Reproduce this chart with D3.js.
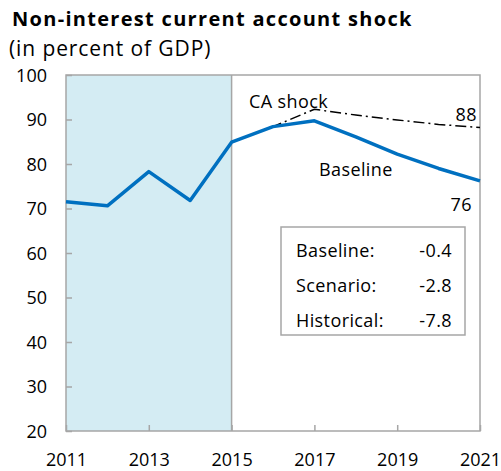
<!DOCTYPE html>
<html>
<head>
<meta charset="utf-8">
<script src="https://cdn.jsdelivr.net/npm/d3@7"></script>
<style>
  body { margin: 0; background: #fff; }
  svg text { font-family: "Open Sans", "Noto Sans", sans-serif; fill: #000; }
</style>
</head>
<body>
<svg id="chart" width="501" height="471"></svg>
<script>
// values
var years = [2011, 2012, 2013, 2014, 2015, 2016, 2017, 2018, 2019, 2020, 2021]
var baseline = [71.5, 70.6, 78.3, 71.8, 84.9, 88.4, 89.7, 86.1, 82.2, 79.0, 76.2]
var shockYears = [2015, 2016, 2017, 2018, 2019, 2020, 2021]
var shock = [84.9, 88.4, 92.3, 91.0, 89.9, 88.9, 88.2]
var yTicks = [20, 30, 40, 50, 60, 70, 80, 90, 100]
var xTicks = [2011, 2013, 2015, 2017, 2019, 2021]
var histEnd = 2015
var boxLabels = ["Baseline:", "Scenario:", "Historical:"]
var boxValues = ["-0.4", "-2.8", "-7.8"]

var svg = d3.select("#chart")
// plot box (don't use "top" as a global, it's window.top)
var pL = 66, pR = 480, pT = 75, pB = 431

var x = d3.scaleLinear().domain([2011, 2021]).range([pL, pR])
var y = d3.scaleLinear().domain([20, 100]).range([pB, pT])

// title
svg.append("text").attr("x", 12).attr("y", 26)
  .style("font-size", "20px").style("font-weight", "bold")
  .style("letter-spacing", "1.3px")
  .text("Non-interest current account shock")
svg.append("text").attr("x", 9).attr("y", 56)
  .style("font-size", "21px")
  .style("letter-spacing", "0.9px")
  .text("(in percent of GDP)")

// shaded historical period
svg.append("rect")
  .attr("x", x(2011)).attr("y", y(100))
  .attr("width", x(histEnd) - x(2011)).attr("height", y(20) - y(100))
  .attr("fill", "#d4ecf3")

// frame
svg.append("rect")
  .attr("x", pL).attr("y", pT)
  .attr("width", pR - pL).attr("height", pB - pT)
  .attr("fill", "none").attr("stroke", "#a6a6a6").attr("stroke-width", 1.5)
svg.append("line")
  .attr("x1", x(histEnd)).attr("x2", x(histEnd))
  .attr("y1", pT).attr("y2", pB)
  .attr("stroke", "#a6a6a6").attr("stroke-width", 1.5)

// y axis: ticks inside
var yAxis = d3.axisRight(y).tickValues(yTicks).tickSize(6).tickFormat("")
var gy = svg.append("g").attr("transform", "translate(" + pL + ",0)").call(yAxis)
gy.select(".domain").remove()
gy.selectAll(".tick line").attr("stroke", "#a6a6a6").attr("stroke-width", 1.5)
gy.selectAll(".tick").append("text")
  .attr("x", -19).attr("dy", "0.35em")
  .attr("text-anchor", "end")
  .style("font-size", "18px")
  .text(function(d) { return d })

// x axis: ticks inside
var xAxis = d3.axisTop(x).tickValues(xTicks).tickSize(6).tickFormat("")
var gx = svg.append("g").attr("transform", "translate(0," + pB + ")").call(xAxis)
gx.select(".domain").remove()
gx.selectAll(".tick line").attr("stroke", "#a6a6a6").attr("stroke-width", 1.5)
gx.selectAll(".tick").append("text")
  .attr("y", 35)
  .attr("text-anchor", "middle")
  .style("font-size", "18px")
  .text(function(d) { return d })

// lines
var line = d3.line()
  .x(function(d) { return x(d[0]) })
  .y(function(d) { return y(d[1]) })

svg.append("path")
  .datum(d3.zip(shockYears, shock))
  .attr("d", line)
  .attr("fill", "none").attr("stroke", "#000").attr("stroke-width", 1.5)
  .attr("stroke-dasharray", "11,4,2,4")

svg.append("path")
  .datum(d3.zip(years, baseline))
  .attr("d", line)
  .attr("fill", "none").attr("stroke", "#0070c0").attr("stroke-width", 3.5)
  .attr("stroke-linejoin", "round")

// line labels
function label(tx, ty, s, anchor) {
  svg.append("text").attr("x", tx).attr("y", ty)
    .attr("text-anchor", anchor || "start")
    .style("font-size", "18px").style("letter-spacing", "0.4px").text(s)
}
label(249, 108, "CA shock")
label(x(2021) - 3, 121, shock[shock.length - 1].toFixed(0), "end")
label(319, 176, "Baseline")
label(x(2021) - 8, 211, baseline[baseline.length - 1].toFixed(0), "end")

// box with growth numbers
svg.append("rect")
  .attr("x", 281).attr("y", 227).attr("width", 184).attr("height", 108)
  .attr("fill", "#fff").attr("stroke", "#a6a6a6").attr("stroke-width", 1.5)
boxLabels.forEach(function(s, i) {
  label(296, 257 + i * 35, s)
  label(452, 257 + i * 35, boxValues[i], "end")
})
</script>
</body>
</html>
